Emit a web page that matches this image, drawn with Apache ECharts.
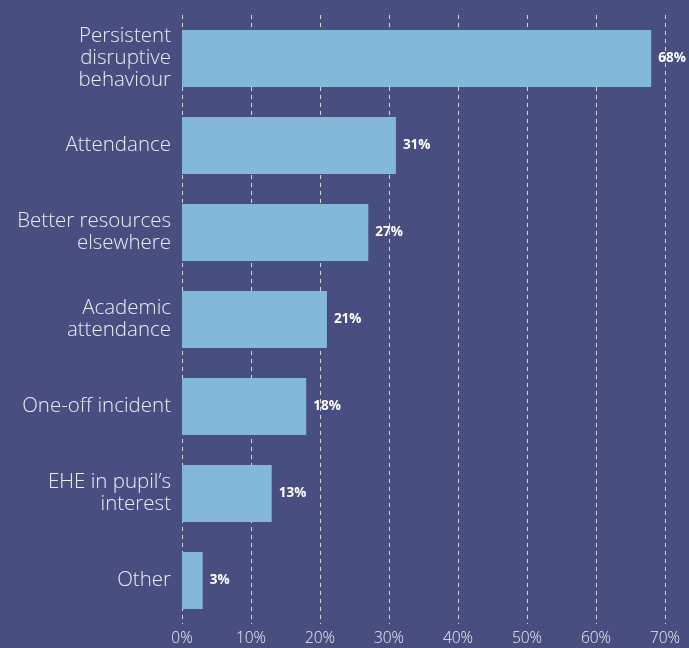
<!DOCTYPE html>
<html>
<head>
<meta charset="utf-8">
<script src="https://cdn.jsdelivr.net/npm/echarts@6/dist/echarts.min.js"></script>
<style>
  html, body { margin: 0; padding: 0; background: #484f80; }
  #chart { width: 689px; height: 648px; }
</style>
</head>
<body>
<div id="chart"></div>
<script>
// Reasons given, top to bottom
const categories = [
  'Persistent\ndisruptive\nbehaviour',
  'Attendance',
  'Better resources\nelsewhere',
  'Academic\nattendance',
  'One-off incident',
  'EHE in pupil\u2019s\ninterest',
  'Other'
];
// Share of responses (%)
const values = [68, 31, 27, 21, 18, 13, 3];
// X axis ticks (%)
const xTicks = [0, 10, 20, 30, 40, 50, 60, 70];

const chart = echarts.init(document.getElementById('chart'), null, { renderer: 'canvas' });

chart.setOption({
  backgroundColor: '#484f80',
  animation: false,
  grid: { left: 182, right: 24, top: 15, bottom: 24, containLabel: false },
  xAxis: {
    type: 'value',
    min: xTicks[0],
    max: xTicks[xTicks.length - 1],
    interval: 10,
    axisLine: { show: false },
    axisTick: { show: false },
    splitLine: {
      show: true,
      lineStyle: { color: 'rgba(235,235,245,0.85)', type: [4, 4], width: 1 }
    },
    axisLabel: {
      color: '#ececf4',
      fontFamily: 'Open Sans',
      fontWeight: 300,
      fontSize: 15.5,
      margin: 7,
      formatter: v => v + '%'
    }
  },
  yAxis: {
    type: 'category',
    inverse: true,
    data: categories,
    axisLine: { show: false },
    axisTick: { show: false },
    splitLine: { show: false },
    axisLabel: {
      color: '#ececf4',
      fontFamily: 'Open Sans',
      fontWeight: 300,
      fontSize: 20.5,
      lineHeight: 22,
      margin: 11,
      align: 'right'
    }
  },
  series: [{
    type: 'bar',
    data: values,
    barWidth: 57,
    itemStyle: { color: '#84b8d9' },
    label: {
      show: true,
      position: 'right',
      distance: 7,
      color: '#ffffff',
      fontFamily: 'Open Sans',
      fontWeight: 'bold',
      fontSize: 13.5,
      formatter: p => p.value + '%'
    }
  }]
});
</script>
</body>
</html>
